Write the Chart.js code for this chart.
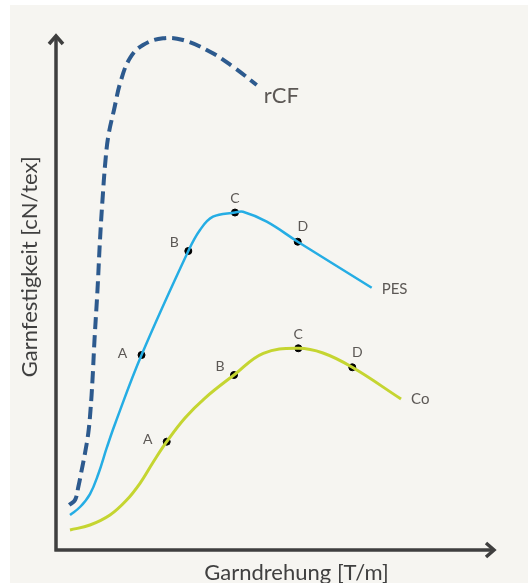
<!DOCTYPE html>
<html>
<head>
<meta charset="utf-8">
<script src="https://cdn.jsdelivr.net/npm/chart.js@4"></script>
<style>
  html, body { margin: 0; padding: 0; background: #ffffff; }
  #wrap { position: absolute; left: 10px; top: 5px; width: 518px; height: 578px; background: #f6f5f1; }
</style>
</head>
<body>
<div id="wrap"><canvas id="chart"></canvas></div>
<script>
// Garnfestigkeit über Garndrehung (qualitative Kurven, Einheiten 0..100)
const rcfX = [3.03, 4.33, 5.08, 5.85, 6.61, 7.36, 7.86, 8.31, 8.77, 9.45, 10.02, 10.59, 11.28, 11.96, 13.21, 14.69, 16.86, 19.82, 24.37, 28.93, 35.08, 40.32, 45.72];
const rcfY = [8.74, 9.71, 12.23, 15.53, 18.83, 22.72, 27.18, 33.01, 40.78, 50.49, 60.19, 67.96, 75.73, 80.58, 85.44, 90.87, 95.53, 98.06, 99.36, 99.03, 96.76, 93.85, 90.29];

const pesX = [3.19, 5.47, 7.74, 9.64, 11.55, 13.44, 19.48, 30.14, 32.80, 35.76, 40.77, 42.60, 48.00, 55.06, 71.91];
const pesY = [6.80, 8.35, 10.87, 14.76, 19.81, 24.47, 37.86, 58.06, 62.14, 64.72, 65.53, 65.69, 63.75, 59.86, 50.93];

const coX = [3.19, 7.74, 12.30, 16.10, 19.13, 22.16, 25.22, 29.38, 33.94, 40.55, 47.22, 55.19, 60.82, 67.49, 78.59];
const coY = [3.88, 4.85, 6.80, 9.71, 12.95, 17.09, 21.03, 25.63, 29.51, 33.98, 38.19, 39.17, 38.25, 35.48, 29.32];

// Kennpunkte A-D
const markLetters = ['A', 'B', 'C', 'D'];
const pesMarkX = [19.48, 30.14, 40.77, 55.06];
const pesMarkY = [37.86, 58.06, 65.53, 59.86];
const coMarkX = [25.22, 40.55, 55.19, 67.49];
const coMarkY = [21.03, 33.98, 39.17, 35.48];

const seriesNames = ['rCF', 'PES', 'Co'];
const xTitle = 'Garndrehung [T/m]';
const yTitle = 'Garnfestigkeit [cN/tex]';

const toPts = (xs, ys) => xs.map((x, i) => ({ x: x, y: ys[i] }));

const FONT = 'Lato, "Open Sans", sans-serif';
const AXIS = '#3f3f3f';
const TXT = '#5c5855';

// Achsen mit Pfeilen, Achsentitel und Beschriftungen
const decorPlugin = {
  id: 'decor',
  afterDatasetsDraw(chart) {
    const ctx = chart.ctx;
    const xs = chart.scales.x;
    const ys = chart.scales.y;
    const x0 = xs.getPixelForValue(0);
    const y0 = ys.getPixelForValue(0);
    const xEnd = xs.getPixelForValue(100);
    const yEnd = ys.getPixelForValue(100);
    ctx.save();
    ctx.strokeStyle = AXIS;
    ctx.lineWidth = 3.5;
    ctx.lineCap = 'butt';
    ctx.beginPath();
    ctx.moveTo(x0, y0 + 1.5);
    ctx.lineTo(x0, yEnd + 2);
    ctx.moveTo(x0 - 1.5, y0);
    ctx.lineTo(xEnd - 2, y0);
    ctx.stroke();
    ctx.lineJoin = 'miter';
    ctx.beginPath();
    ctx.moveTo(x0 - 7, yEnd + 9);
    ctx.lineTo(x0, yEnd + 1);
    ctx.lineTo(x0 + 7, yEnd + 9);
    ctx.moveTo(xEnd - 9, y0 - 7);
    ctx.lineTo(xEnd - 1, y0);
    ctx.lineTo(xEnd - 9, y0 + 7);
    ctx.stroke();

    // Achsentitel
    ctx.fillStyle = '#404040';
    ctx.font = '22px ' + FONT;
    ctx.textAlign = 'center';
    ctx.textBaseline = 'middle';
    ctx.fillText(xTitle, (x0 + xEnd) / 2 + 21, y0 + 23);
    ctx.save();
    ctx.translate(x0 - 26, ys.getPixelForValue(55));
    ctx.rotate(-Math.PI / 2);
    ctx.fillText(yTitle, 0, 0);
    ctx.restore();

    // Buchstaben A-D
    const offs = [[-19, -2], [-14, -9], [0, -14], [5, -15]];
    ctx.fillStyle = TXT;
    ctx.font = '14px ' + FONT;
    [[pesMarkX, pesMarkY], [coMarkX, coMarkY]].forEach(([mx, my]) => {
      markLetters.forEach((l, i) => {
        const px = xs.getPixelForValue(mx[i]) + offs[i][0];
        const py = ys.getPixelForValue(my[i]) + offs[i][1];
        ctx.fillText(l, px, py);
      });
    });

    // Kurvennamen am Kurvenende
    ctx.textAlign = 'left';
    const ends = [[rcfX, rcfY, 7, 11, 22], [pesX, pesY, 10, 1, 15], [coX, coY, 10, 0, 15]];
    ends.forEach(([ax, ay, dx, dy, size], i) => {
      const n = ax.length - 1;
      ctx.font = size + 'px ' + FONT;
      ctx.fillText(seriesNames[i], xs.getPixelForValue(ax[n]) + dx, ys.getPixelForValue(ay[n]) + dy);
    });
    ctx.restore();
  }
};

const lineStyle = { showLine: true, pointRadius: 0, tension: 0.4, clip: false };
const markStyle = { pointRadius: 3.5, pointBackgroundColor: '#000000', pointBorderColor: '#000000', pointBorderWidth: 1 };

new Chart(document.getElementById('chart'), {
  type: 'scatter',
  data: {
    datasets: [
      Object.assign({ label: seriesNames[0], data: toPts(rcfX, rcfY), borderColor: '#2d5a8e', borderWidth: 4, borderDash: [12, 6] }, lineStyle),
      Object.assign({ label: seriesNames[1], data: toPts(pesX, pesY), borderColor: '#25ade4', borderWidth: 2.5 }, lineStyle),
      Object.assign({ label: seriesNames[2], data: toPts(coX, coY), borderColor: '#c5d531', borderWidth: 3 }, lineStyle),
      Object.assign({ label: 'PES Punkte', data: toPts(pesMarkX, pesMarkY) }, markStyle),
      Object.assign({ label: 'Co Punkte', data: toPts(coMarkX, coMarkY) }, markStyle)
    ]
  },
  options: {
    responsive: true,
    maintainAspectRatio: false,
    animation: false,
    layout: { padding: { left: 46, top: 30, right: 33, bottom: 33 } },
    scales: {
      x: { type: 'linear', min: 0, max: 100, display: false },
      y: { type: 'linear', min: 0, max: 100, display: false }
    },
    plugins: {
      legend: { display: false },
      tooltip: { enabled: false }
    }
  },
  plugins: [decorPlugin]
});
</script>
</body>
</html>
